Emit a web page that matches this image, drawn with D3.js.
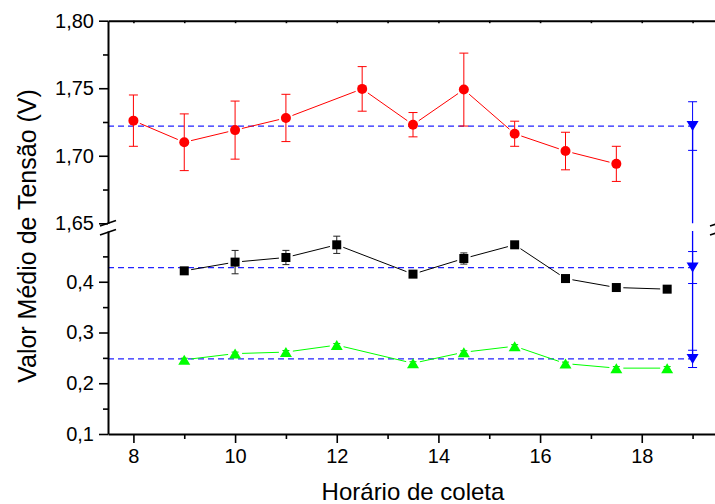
<!DOCTYPE html>
<html>
<head>
<meta charset="utf-8">
<script src="https://cdn.jsdelivr.net/npm/d3@7"></script>
<style>
  body { margin: 0; background: #fff; }
  svg { display: block; font-family: "Liberation Sans", Arial, sans-serif; }
</style>
</head>
<body>
<div id="chart"></div>
<script>
// Red series (upper panel)
const horas1 = [8, 9, 10, 11, 12.5, 13.5, 14.5, 15.5, 16.5, 17.5];
const tensao1 = [1.726, 1.710, 1.719, 1.728, 1.7495, 1.723, 1.749, 1.7163, 1.7035, 1.694];
const erro1 = [0.019, 0.021, 0.0215, 0.0175, 0.0165, 0.009, 0.027, 0.0093, 0.0139, 0.013];

// Black and green series (lower panel)
const horas2 = [9, 10, 11, 12, 13.5, 14.5, 15.5, 16.5, 17.5, 18.5];
const tensao2 = [0.4215, 0.4387, 0.4478, 0.4728, 0.415, 0.4458, 0.4728, 0.4063, 0.3886, 0.3854];
const erro2 = [0.003, 0.023, 0.014, 0.017, 0.004, 0.011, 0.004, 0.003, 0.003, 0.003];
const tensao3 = [0.2463, 0.2584, 0.2614, 0.2752, 0.2394, 0.2611, 0.273, 0.2387, 0.2298, 0.2298];
const erro3 = [0.003, 0.003, 0.003, 0.003, 0.003, 0.003, 0.003, 0.003, 0.003, 0.003];

// Mean values (blue) shown at x = 19
const mediaX = 19;
const medias = [1.722, 0.428, 0.248];
const mediasErro = [0.018, 0.0315, 0.017];

// Ticks
const xTicks = [8, 10, 12, 14, 16, 18];
const xMinor = [9, 11, 13, 15, 17, 19];
const yTopTicks = [1.65, 1.70, 1.75, 1.80];
const yTopMinor = [1.675, 1.725, 1.775];
const yBotTicks = [0.1, 0.2, 0.3, 0.4];
const yBotMinor = [0.15, 0.25, 0.35, 0.45];

const W = 715, H = 504;
const left = 108, right = 718;

const svg = d3.select('#chart').append('svg')
  .attr('width', W)
  .attr('height', H);

const x = d3.scaleLinear().domain([7.5, 19.5]).range([left, right]);
const yTop = d3.scaleLinear().domain([1.65, 1.80]).range([223.3, 20.7]);
const yBot = d3.scaleLinear().domain([0.1, 0.5]).range([434, 231]);

const comma = f => v => d3.format(f)(v).replace('.', ',');

// clip paths for the two panels
const defs = svg.append('defs');
defs.append('clipPath').attr('id', 'clip-top')
  .append('rect').attr('x', left).attr('y', yTop.range()[1])
  .attr('width', right - left).attr('height', yTop.range()[0] - yTop.range()[1]);
defs.append('clipPath').attr('id', 'clip-bot')
  .append('rect').attr('x', left).attr('y', yBot.range()[1])
  .attr('width', right - left).attr('height', yBot.range()[0] - yBot.range()[1]);

// ---- mean dashed lines
const dashed = (g, y, v) => g.append('line')
  .attr('x1', x(7.5)).attr('x2', x(mediaX))
  .attr('y1', y(v)).attr('y2', y(v))
  .attr('stroke', '#2323ff')
  .attr('stroke-width', 1.2)
  .attr('stroke-dasharray', '6,4');

const topG = svg.append('g').attr('clip-path', 'url(#clip-top)');
const botG = svg.append('g').attr('clip-path', 'url(#clip-bot)');

dashed(topG, yTop, medias[0]);
dashed(botG, yBot, medias[1]);
dashed(botG, yBot, medias[2]);

// ---- connecting lines, with a small gap at each marker
function gapLine(g, xs, ys, y, gap, color) {
  const pts = xs.map((d, i) => [x(d), y(ys[i])]);
  const segs = d3.pairs(pts).map(([a, b]) => {
    const dx = b[0] - a[0], dy = b[1] - a[1];
    const len = Math.hypot(dx, dy);
    const ux = dx / len, uy = dy / len;
    return [a[0] + ux * gap, a[1] + uy * gap, b[0] - ux * gap, b[1] - uy * gap, len];
  }).filter(s => s[4] > gap * 2);
  g.selectAll(null).data(segs).enter().append('line')
    .attr('x1', d => d[0]).attr('y1', d => d[1])
    .attr('x2', d => d[2]).attr('y2', d => d[3])
    .attr('stroke', color)
    .attr('stroke-width', 1);
}

function errorBars(g, xs, ys, es, y, color, cap) {
  const data = xs.map((d, i) => ({ x: x(d), lo: y(ys[i] - es[i]), hi: y(ys[i] + es[i]) }));
  const eb = g.selectAll(null).data(data).enter().append('g')
    .attr('stroke', color).attr('stroke-width', 1);
  eb.append('line').attr('x1', d => d.x).attr('x2', d => d.x)
    .attr('y1', d => d.lo).attr('y2', d => d.hi);
  eb.append('line').attr('x1', d => d.x - cap / 2).attr('x2', d => d.x + cap / 2)
    .attr('y1', d => d.lo).attr('y2', d => d.lo);
  eb.append('line').attr('x1', d => d.x - cap / 2).attr('x2', d => d.x + cap / 2)
    .attr('y1', d => d.hi).attr('y2', d => d.hi);
}

const triUp = (w, h) => `M0,${-h / 2}L${w / 2},${h / 2}L${-w / 2},${h / 2}Z`;
const triDown = (w, h) => `M0,${h / 2}L${w / 2},${-h / 2}L${-w / 2},${-h / 2}Z`;

// red
gapLine(topG, horas1, tensao1, yTop, 7, '#ff0000');
errorBars(topG, horas1, tensao1, erro1, yTop, '#ff0000', 9);
topG.selectAll(null).data(horas1).enter().append('circle')
  .attr('cx', d => x(d))
  .attr('cy', (d, i) => yTop(tensao1[i]))
  .attr('r', 5)
  .attr('fill', '#ff0000');

// black
gapLine(botG, horas2, tensao2, yBot, 7, '#000000');
errorBars(botG, horas2, tensao2, erro2, yBot, '#222222', 7);
botG.selectAll(null).data(horas2).enter().append('rect')
  .attr('x', d => x(d) - 4.5)
  .attr('y', (d, i) => yBot(tensao2[i]) - 4.5)
  .attr('width', 9).attr('height', 9)
  .attr('fill', '#000000');

// green
gapLine(botG, horas2, tensao3, yBot, 7, '#00ff00');
errorBars(botG, horas2, tensao3, erro3, yBot, '#00cc00', 7);
botG.selectAll(null).data(horas2).enter().append('path')
  .attr('transform', (d, i) => `translate(${x(d)},${yBot(tensao3[i])})`)
  .attr('d', triUp(12, 10))
  .attr('fill', '#00ff00');

// blue means: a line through the three means, drawn in both panels
[[topG, yTop], [botG, yBot]].forEach(([g, y]) => {
  g.append('path')
    .datum(medias)
    .attr('d', d3.line().x(() => x(mediaX)).y(v => y(v)))
    .attr('fill', 'none')
    .attr('stroke', '#0000ff')
    .attr('stroke-width', 1.3);
});
errorBars(topG, [mediaX], medias.slice(0, 1), mediasErro.slice(0, 1), yTop, '#0000ff', 9);
errorBars(botG, [mediaX, mediaX], medias.slice(1), mediasErro.slice(1), yBot, '#0000ff', 9);
topG.selectAll(null).data(medias.slice(0, 1)).enter().append('path')
  .attr('transform', v => `translate(${x(mediaX)},${yTop(v)})`)
  .attr('d', triDown(12, 10)).attr('fill', '#0000ff');
botG.selectAll(null).data(medias.slice(1)).enter().append('path')
  .attr('transform', v => `translate(${x(mediaX)},${yBot(v)})`)
  .attr('d', triDown(12, 10)).attr('fill', '#0000ff');

// ---- axes
function styleAxis(g) {
  g.selectAll('path.domain').attr('stroke', '#000').attr('stroke-width', 2);
  g.selectAll('.tick line').attr('stroke', '#000').attr('stroke-width', 1.6);
  g.selectAll('.tick text').attr('fill', '#000').style('font-size', '20px')
    .style('font-family', '"Liberation Sans", Arial, sans-serif');
}

// left, upper
svg.append('g').attr('transform', `translate(${left},0)`)
  .call(d3.axisLeft(yTop).tickValues(yTopTicks).tickSize(9).tickSizeOuter(0).tickPadding(5).tickFormat(comma('.2f')))
  .call(styleAxis);
svg.append('g').attr('transform', `translate(${left},0)`)
  .call(d3.axisLeft(yTop).tickValues(yTopMinor).tickSize(5).tickFormat(''))
  .call(g => g.select('.domain').remove())
  .call(styleAxis);

// left, lower
svg.append('g').attr('transform', `translate(${left},0)`)
  .call(d3.axisLeft(yBot).tickValues(yBotTicks).tickSize(9).tickSizeOuter(0).tickPadding(5).tickFormat(comma('.1f')))
  .call(styleAxis);
svg.append('g').attr('transform', `translate(${left},0)`)
  .call(d3.axisLeft(yBot).tickValues(yBotMinor).tickSize(5).tickFormat(''))
  .call(g => g.select('.domain').remove())
  .call(styleAxis);

// right axis (upper and lower segments)
[yTop, yBot].forEach(y => {
  svg.append('g').attr('transform', `translate(${right},0)`)
    .call(d3.axisRight(y).tickValues([]).tickSizeOuter(0))
    .call(styleAxis);
});

// bottom
svg.append('g').attr('transform', `translate(0,${yBot.range()[0]})`)
  .call(d3.axisBottom(x).tickValues(xTicks).tickSize(9).tickSizeOuter(0).tickPadding(6).tickFormat(d3.format('d')))
  .call(styleAxis);
svg.append('g').attr('transform', `translate(0,${yBot.range()[0]})`)
  .call(d3.axisBottom(x).tickValues(xMinor).tickSize(5).tickFormat(''))
  .call(g => g.select('.domain').remove())
  .call(styleAxis);

// top (small inward ticks)
svg.append('g').attr('transform', `translate(0,${yTop.range()[1]})`)
  .call(d3.axisTop(x).tickValues(xTicks.concat(xMinor)).tickSize(-2.5).tickSizeOuter(0).tickFormat(''))
  .call(styleAxis);

// axis break marks
[left, right].forEach(ax => {
  [0, 9].forEach(off => {
    svg.append('line')
      .attr('x1', ax - 8).attr('y1', 226 + off)
      .attr('x2', ax + 8).attr('y2', 220.5 + off)
      .attr('stroke', '#000').attr('stroke-width', 1.6);
  });
});

// axis titles
svg.append('text')
  .attr('transform', 'translate(36,236) rotate(-90)')
  .attr('text-anchor', 'middle')
  .style('font-size', '25px')
  .attr('fill', '#000')
  .text('Valor Médio de Tensão (V)');

svg.append('text')
  .attr('x', (left + right) / 2)
  .attr('y', 500)
  .attr('text-anchor', 'middle')
  .style('font-size', '24px')
  .attr('fill', '#000')
  .text('Horário de coleta');
</script>
</body>
</html>
